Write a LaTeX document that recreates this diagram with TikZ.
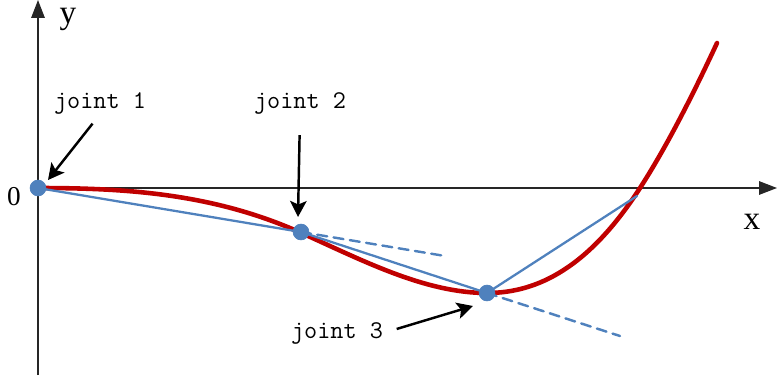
\documentclass[tikz,border=0pt]{standalone}
\usepackage{amsmath, amssymb}
\usepackage{fontspec}
\setmainfont{Liberation Serif}
\usepackage{tikz}
\usetikzlibrary{calc, arrows.meta}
\usepackage{tkz-euclide}
\definecolor{linkblue}{RGB}{79,129,189}
\definecolor{curvered}{RGB}{192,0,0}

\begin{document}
\begin{tikzpicture}[scale=1,
        axis/.style={black!85, line width=0.85pt, -{Triangle[length=0.36cm, width=0.27cm]}},
        pointer/.style={black, line width=1.4pt, -{Stealth[length=0.32cm, width=0.33cm, inset=0.07cm]}},
        tag/.style={inner sep=0pt, font=\fontsize{14.5}{16}\selectfont\ttfamily},
        axlab/.style={inner sep=0pt, font=\fontsize{19}{21}\selectfont}]
            \useasboundingbox (-0.76,-3.80) rectangle (14.78,3.76);
            \tkzDefPoints{0/0/O, 5.26/-0.88/J2, 8.98/-2.10/J3, 11.98/-0.16/E}
            \tkzDefPoints{8.14/-1.36/D2, 11.64/-2.96/D3}
            \tkzDefPoints{0/-3.74/Y0, 0/3.76/Y1, 14.78/0/X1}
            \tkzDefPoints{0.20/0.16/T1, 5.20/-0.58/T2, 8.70/-2.36/T3}
            \tkzDefPoints{12.04/0/C1, 13.58/2.90/C2}
            % axes
            \draw[axis] (Y0) -- (Y1);
            \draw[axis] (O) -- (X1);
            \node[axlab] (ylab) at (0.60,3.38) {y};
            \node[axlab] (xlab) at (14.28,-0.68) {x};
            \node[axlab, font=\fontsize{15.5}{17}\selectfont] (zero) at (-0.48,-0.17) {0};
            % curve
            \draw[curvered, line width=2.6pt, line cap=round]
                (O) .. controls (1.757,0) and (3.513,-0.109) .. (5.27,-0.90)
                    .. controls (6.507,-1.457) and (7.743,-2.10) .. (J3)
                    .. controls (10.0,-2.10) and (11.02,-1.581) .. (C1)
                    .. controls (12.553,0.796) and (13.067,1.797) .. (C2);
            % links
            \tkzDrawSegments[linkblue, line width=1.4pt, dash pattern=on 0.2cm off 0.13cm](J2,D2 J3,D3)
            \tkzDrawSegments[linkblue, line width=1.3pt](O,J2 J2,J3 J3,E)
            \tkzDrawPoints[color=linkblue, fill=linkblue, size=9](O,J2,J3)
            % labels
            \node[tag] (lab1) at (1.24,1.70) {joint 1};
            \node[tag] (lab2) at (5.24,1.70) {joint 2};
            \node[tag] (lab3) at (5.98,-2.90) {joint 3};
            \draw[pointer, shorten <=0.24cm] (lab1.south) -- (T1);
            \draw[pointer, shorten <=0.42cm] (lab2.south) -- (T2);
            \draw[pointer, shorten <=0.28cm] (lab3.east) -- (T3);
        \end{tikzpicture}
\end{document}
